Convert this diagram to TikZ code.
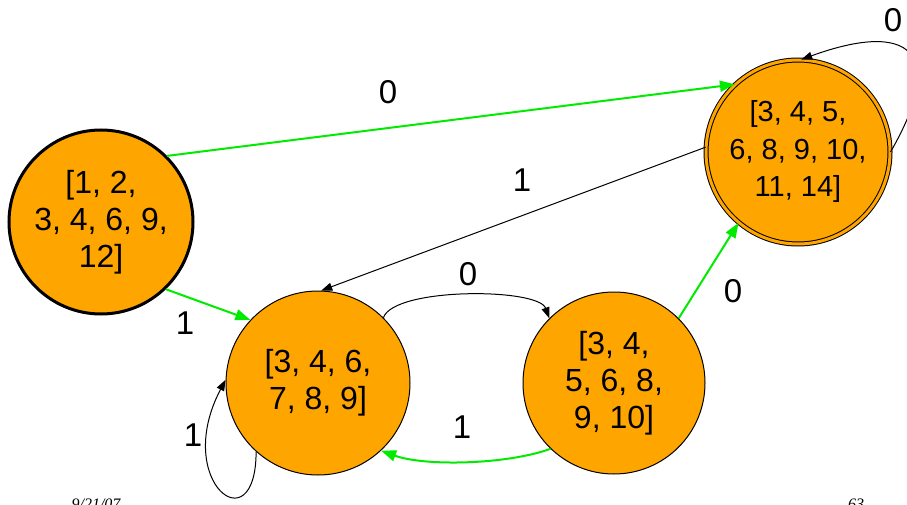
\documentclass[tikz,border=0pt]{standalone}
\usepackage{fontspec}
\setmainfont{Liberation Sans}
\newfontfamily\footfont{Liberation Serif}
\usetikzlibrary{arrows.meta}
\definecolor{stateorange}{RGB}{255,165,0}
\definecolor{edgegreen}{RGB}{0,235,0}
\tikzset{
  state/.style={circle, fill=stateorange, draw=black, line width=1pt, inner sep=0pt,
    align=center, font=\fontsize{32}{37}\selectfont},
  gedge/.style={draw=edgegreen, line width=2pt, -{Triangle[length=15pt,width=11pt]}},
  bedge/.style={draw=black, line width=1pt, -{Triangle[length=11pt,width=8pt]}},
  elabel/.style={font=\fontsize{33}{37}\selectfont, inner sep=0pt},
  footlabel/.style={font=\footfont\itshape\fontsize{16}{18}\selectfont, inner sep=0pt, anchor=north}
}
\begin{document}
\begin{tikzpicture}[x=1pt,y=1pt]
\useasboundingbox (0,0) rectangle (907,504);
\clip (0,0) rectangle (907,504);
\node[state, minimum size=184pt, line width=3pt] (A) at (101,282) {[1, 2,\\3, 4, 6, 9,\\12]};
\node[state, minimum size=184pt] (B) at (318,121) {[3, 4, 6,\\7, 8, 9]};
\node[state, minimum size=182pt] (C) at (614,121) {[3, 4,\\5, 6, 8,\\9, 10]};
\node[state, minimum size=184pt, double=stateorange, double distance=3pt, line width=1pt,
  font=\fontsize{29}{37.5}\selectfont] (D) at (798,352) {[3, 4, 5,\\6, 8, 9, 10,\\11, 14]};
% edges
\draw[gedge] (A.45) -- (D.133);
\draw[gedge] (A.-46) -- (B.137);
\draw[bedge] (D.177) -- (B.88);
\draw[bedge] (B.45) to[out=70,in=110,looseness=0.5] (C.135);
\draw[gedge] (C.-134) to[out=-160,in=-20,looseness=0.7] (B.-47);
\draw[gedge] (C.45) -- (D.230);
\draw[bedge] (D.0) to[out=60,in=20,looseness=2.3] (D.88);
\draw[bedge] (B.228) .. controls (256,-42) and (172,22) .. (B.178);
% labels
\node[elabel] (l1) at (388,412) {0};
\node[elabel] (l2) at (522,324) {1};
\node[elabel] (l3) at (185,181) {1};
\node[elabel] (l4) at (468,230) {0};
\node[elabel] (l5) at (462,77) {1};
\node[elabel] (l6) at (733,213) {0};
\node[elabel] (l7) at (893,484) {0};
\node[elabel] (l8) at (193,69) {1};
% footer
\node[footlabel] (f1) at (96,5) {9/21/07};
\node[footlabel] (f2) at (856,5) {63};
\end{tikzpicture}
\end{document}
